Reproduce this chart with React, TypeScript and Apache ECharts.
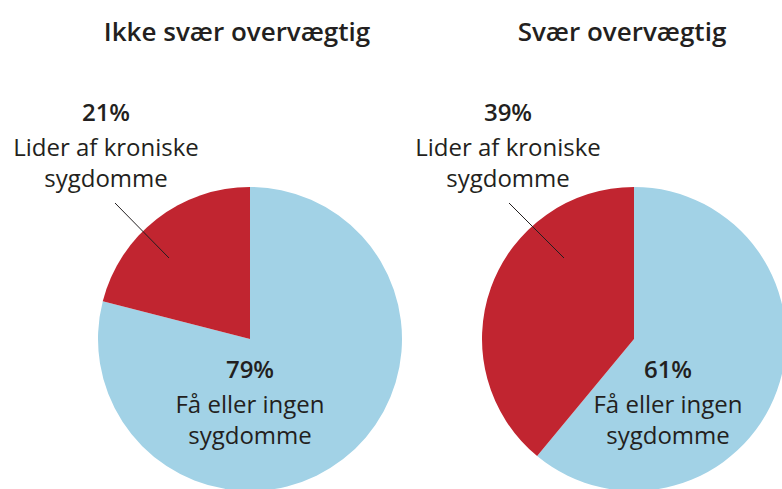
import React, { useEffect, useRef } from "react";
import * as echarts from "echarts";

const titles = ["Ikke svær overvægtig", "Svær overvægtig"];
const categories = ["Få eller ingen sygdomme", "Lider af kroniske sygdomme"];
const categoryLines = [["Få eller ingen", "sygdomme"], ["Lider af kroniske", "sygdomme"]];
const shareNotObese = [79, 21];
const shareObese = [61, 39];
const seriesValues = [shareNotObese, shareObese];

const BLUE = "#a2d2e6";
const RED = "#c12530";
const INK = "#231f20";
const FONT = "'Open Sans', sans-serif";

// layout (style only)
const pieCenters = [[250, 339], [634, 339]];
const pieRadius = 152;
const titleCenters = [232, 617];
const labelPos = [
  [[250, 349], [106, 92]],
  [[668, 349], [508, 92]],
];
const leaders = [
  [115, 203, 169, 258],
  [509, 203, 564, 258],
];

export default function App() {
  const ref = useRef<HTMLDivElement>(null);
  useEffect(() => {
    document.body.style.margin = "0";
    if (!ref.current) return;
    const chart = echarts.init(ref.current, null, { renderer: "svg" });
    const series = seriesValues.map((vals, si) => ({
      type: "pie",
      center: pieCenters[si],
      radius: pieRadius,
      startAngle: 90,
      clockwise: true,
      silent: true,
      itemStyle: { borderWidth: 0 },
      labelLine: { show: false },
      label: {
        show: true,
        position: "inside",
        formatter: (p: any) =>
          `{p|${p.value}%}\n` + categoryLines[p.dataIndex].map((l) => `{t|${l}}`).join("\n"),
        rich: {
          p: { fontFamily: FONT, fontSize: 24, fontWeight: 600, color: INK, lineHeight: 39, align: "center" },
          t: { fontFamily: FONT, fontSize: 24, color: INK, lineHeight: 31, align: "center" },
        },
      },
      labelLayout: (params: any) => {
        const pos = labelPos[params.seriesIndex][params.dataIndex];
        return { x: pos[0], y: pos[1], align: "center", verticalAlign: "top" };
      },
      data: vals.map((v, i) => ({
        name: categories[i],
        value: v,
        itemStyle: { color: i === 0 ? BLUE : RED },
      })),
    }));
    chart.setOption({
      animation: false,
      backgroundColor: "#ffffff",
      title: titles.map((t, i) => ({
        text: t,
        left: titleCenters[i],
        top: 13,
        textAlign: "center",
        textStyle: { fontFamily: FONT, fontSize: 26, fontWeight: 600, color: INK },
      })),
      series,
      graphic: leaders.map((l) => ({
        type: "line",
        shape: { x1: l[0], y1: l[1], x2: l[2], y2: l[3] },
        style: { stroke: INK, lineWidth: 1 },
        z: 100,
      })),
    });
    return () => chart.dispose();
  }, []);
  return <div ref={ref} style={{ width: 782, height: 489 }} />;
}
